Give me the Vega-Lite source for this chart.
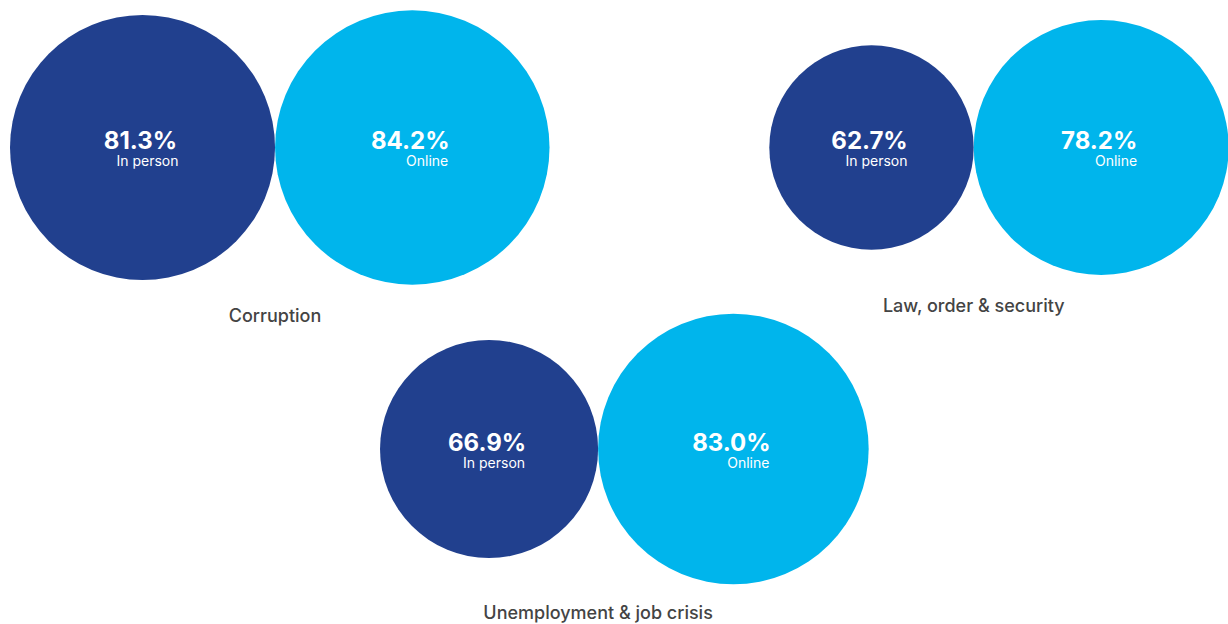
{
  "$schema": "https://vega.github.io/schema/vega-lite/v6.json",
  "background": "white",
  "padding": {"left": 10, "top": 0, "right": 0, "bottom": 0},
  "config": {"view": {"stroke": null}, "font": "Inter"},
  "data": {
    "values": [
      {"group": "Corruption", "type": "In person", "value": 81.3, "order": 1},
      {"group": "Corruption", "type": "Online", "value": 84.2, "order": 2},
      {"group": "Law, order & security", "type": "In person", "value": 62.7, "order": 1},
      {"group": "Law, order & security", "type": "Online", "value": 78.2, "order": 2},
      {"group": "Unemployment & job crisis", "type": "In person", "value": 66.9, "order": 1},
      {"group": "Unemployment & job crisis", "type": "Online", "value": 83.0, "order": 2}
    ]
  },
  "columns": 2,
  "align": "none",
  "bounds": "flush",
  "spacing": {"row": 0, "column": -99.68},
  "resolve": {"scale": {"x": "independent", "y": "independent"}},
  "concat": [
    {
      "width": 539.53,
      "height": 300,
      "transform": [
        {"filter": "datum.group === 'Corruption'"},
        {"window": [{"op": "sum", "field": "value", "as": "cum"}], "sort": [{"field": "order"}], "frame": [null, 0]},
        {"calculate": "2 * datum.cum - datum.value", "as": "cx"},
        {"calculate": "format(datum.value, '.1f') + '%'", "as": "pct"},
        {"joinaggregate": [{"op": "max", "field": "value", "as": "maxv"}, {"op": "min", "field": "cx", "as": "xd"}]},
        {"calculate": "2 * datum.xd", "as": "touchX"},
        {"calculate": "-(datum.maxv + 22.7)", "as": "labelY"}
      ],
      "layer": [
        {
          "mark": {"type": "point", "filled": true, "opacity": 1, "shape": "circle", "strokeWidth": 0},
          "encoding": {
            "x": {"field": "cx", "type": "quantitative", "scale": {"domain": [0, 331], "nice": false, "zero": false}, "axis": null},
            "y": {"datum": 0, "type": "quantitative", "scale": {"domain": [-93.56, 90.49], "nice": false, "zero": false}, "axis": null},
            "size": {"field": "value", "type": "quantitative", "scale": {"type": "pow", "exponent": 2, "domain": [0, 100], "range": [0, 106276]}, "legend": null},
            "color": {"field": "type", "type": "nominal", "scale": {"domain": ["In person", "Online"], "range": ["#21408e", "#00b5ec"]}, "legend": null}
          }
        },
        {
          "mark": {"type": "text", "font": "Inter", "fontSize": 24, "fontWeight": "bold", "color": "white", "align": "center", "baseline": "alphabetic", "dx": -2, "dy": 2},
          "encoding": {
            "x": {"field": "cx", "type": "quantitative", "scale": {"domain": [0, 331], "nice": false, "zero": false}, "axis": null},
            "y": {"datum": 0, "type": "quantitative", "scale": {"domain": [-93.56, 90.49], "nice": false, "zero": false}, "axis": null},
            "text": {"field": "pct"}
          }
        },
        {
          "mark": {"type": "text", "font": "Inter", "fontSize": 14, "color": "white", "align": "right", "baseline": "alphabetic", "dx": 36, "dy": 19},
          "encoding": {
            "x": {"field": "cx", "type": "quantitative", "scale": {"domain": [0, 331], "nice": false, "zero": false}, "axis": null},
            "y": {"datum": 0, "type": "quantitative", "scale": {"domain": [-93.56, 90.49], "nice": false, "zero": false}, "axis": null},
            "text": {"field": "type"}
          }
        },
        {
          "transform": [{"filter": "datum.order === 1"}],
          "mark": {"type": "text", "font": "Inter", "fontSize": 18, "fontWeight": 500, "color": "#444444", "align": "center", "baseline": "alphabetic"},
          "encoding": {
            "x": {"field": "touchX", "type": "quantitative", "scale": {"domain": [0, 331], "nice": false, "zero": false}, "axis": null},
            "y": {"field": "labelY", "type": "quantitative", "scale": {"domain": [-93.56, 90.49], "nice": false, "zero": false}, "axis": null},
            "text": {"field": "group"}
          }
        }
      ]
    },
    {
      "width": 459.33,
      "height": 300,
      "transform": [
        {"filter": "datum.group === 'Law, order & security'"},
        {"window": [{"op": "sum", "field": "value", "as": "cum"}], "sort": [{"field": "order"}], "frame": [null, 0]},
        {"calculate": "2 * datum.cum - datum.value", "as": "cx"},
        {"calculate": "format(datum.value, '.1f') + '%'", "as": "pct"},
        {"joinaggregate": [{"op": "max", "field": "value", "as": "maxv"}, {"op": "min", "field": "cx", "as": "xd"}]},
        {"calculate": "2 * datum.xd", "as": "touchX"},
        {"calculate": "-(datum.maxv + 22.7)", "as": "labelY"}
      ],
      "layer": [
        {
          "mark": {"type": "point", "filled": true, "opacity": 1, "shape": "circle", "strokeWidth": 0},
          "encoding": {
            "x": {"field": "cx", "type": "quantitative", "scale": {"domain": [0, 281.8], "nice": false, "zero": false}, "axis": null},
            "y": {"datum": 0, "type": "quantitative", "scale": {"domain": [-93.56, 90.49], "nice": false, "zero": false}, "axis": null},
            "size": {"field": "value", "type": "quantitative", "scale": {"type": "pow", "exponent": 2, "domain": [0, 100], "range": [0, 106276]}, "legend": null},
            "color": {"field": "type", "type": "nominal", "scale": {"domain": ["In person", "Online"], "range": ["#21408e", "#00b5ec"]}, "legend": null}
          }
        },
        {
          "mark": {"type": "text", "font": "Inter", "fontSize": 24, "fontWeight": "bold", "color": "white", "align": "center", "baseline": "alphabetic", "dx": -2, "dy": 2},
          "encoding": {
            "x": {"field": "cx", "type": "quantitative", "scale": {"domain": [0, 281.8], "nice": false, "zero": false}, "axis": null},
            "y": {"datum": 0, "type": "quantitative", "scale": {"domain": [-93.56, 90.49], "nice": false, "zero": false}, "axis": null},
            "text": {"field": "pct"}
          }
        },
        {
          "mark": {"type": "text", "font": "Inter", "fontSize": 14, "color": "white", "align": "right", "baseline": "alphabetic", "dx": 36, "dy": 19},
          "encoding": {
            "x": {"field": "cx", "type": "quantitative", "scale": {"domain": [0, 281.8], "nice": false, "zero": false}, "axis": null},
            "y": {"datum": 0, "type": "quantitative", "scale": {"domain": [-93.56, 90.49], "nice": false, "zero": false}, "axis": null},
            "text": {"field": "type"}
          }
        },
        {
          "transform": [{"filter": "datum.order === 1"}],
          "mark": {"type": "text", "font": "Inter", "fontSize": 18, "fontWeight": 500, "color": "#444444", "align": "center", "baseline": "alphabetic"},
          "encoding": {
            "x": {"field": "touchX", "type": "quantitative", "scale": {"domain": [0, 281.8], "nice": false, "zero": false}, "axis": null},
            "y": {"field": "labelY", "type": "quantitative", "scale": {"domain": [-93.56, 90.49], "nice": false, "zero": false}, "axis": null},
            "text": {"field": "group"}
          }
        }
      ]
    },
    {
      "width": 858.68,
      "height": 324,
      "transform": [
        {"filter": "datum.group === 'Unemployment & job crisis'"},
        {"window": [{"op": "sum", "field": "value", "as": "cum"}], "sort": [{"field": "order"}], "frame": [null, 0]},
        {"calculate": "2 * datum.cum - datum.value", "as": "cx"},
        {"calculate": "format(datum.value, '.1f') + '%'", "as": "pct"},
        {"joinaggregate": [{"op": "max", "field": "value", "as": "maxv"}, {"op": "min", "field": "cx", "as": "xd"}]},
        {"calculate": "2 * datum.xd", "as": "touchX"},
        {"calculate": "-(datum.maxv + 21)", "as": "labelY"}
      ],
      "layer": [
        {
          "mark": {"type": "point", "filled": true, "opacity": 1, "shape": "circle", "strokeWidth": 0},
          "encoding": {
            "x": {"field": "cx", "type": "quantitative", "scale": {"domain": [-227, 299.8], "nice": false, "zero": false}, "axis": null},
            "y": {"datum": 0, "type": "quantitative", "scale": {"domain": [-107.36, 91.41], "nice": false, "zero": false}, "axis": null},
            "size": {"field": "value", "type": "quantitative", "scale": {"type": "pow", "exponent": 2, "domain": [0, 100], "range": [0, 106276]}, "legend": null},
            "color": {"field": "type", "type": "nominal", "scale": {"domain": ["In person", "Online"], "range": ["#21408e", "#00b5ec"]}, "legend": null}
          }
        },
        {
          "mark": {"type": "text", "font": "Inter", "fontSize": 24, "fontWeight": "bold", "color": "white", "align": "center", "baseline": "alphabetic", "dx": -2, "dy": 2},
          "encoding": {
            "x": {"field": "cx", "type": "quantitative", "scale": {"domain": [-227, 299.8], "nice": false, "zero": false}, "axis": null},
            "y": {"datum": 0, "type": "quantitative", "scale": {"domain": [-107.36, 91.41], "nice": false, "zero": false}, "axis": null},
            "text": {"field": "pct"}
          }
        },
        {
          "mark": {"type": "text", "font": "Inter", "fontSize": 14, "color": "white", "align": "right", "baseline": "alphabetic", "dx": 36, "dy": 19},
          "encoding": {
            "x": {"field": "cx", "type": "quantitative", "scale": {"domain": [-227, 299.8], "nice": false, "zero": false}, "axis": null},
            "y": {"datum": 0, "type": "quantitative", "scale": {"domain": [-107.36, 91.41], "nice": false, "zero": false}, "axis": null},
            "text": {"field": "type"}
          }
        },
        {
          "transform": [{"filter": "datum.order === 1"}],
          "mark": {"type": "text", "font": "Inter", "fontSize": 18, "fontWeight": 500, "color": "#444444", "align": "center", "baseline": "alphabetic"},
          "encoding": {
            "x": {"field": "touchX", "type": "quantitative", "scale": {"domain": [-227, 299.8], "nice": false, "zero": false}, "axis": null},
            "y": {"field": "labelY", "type": "quantitative", "scale": {"domain": [-107.36, 91.41], "nice": false, "zero": false}, "axis": null},
            "text": {"field": "group"}
          }
        }
      ]
    }
  ]
}
